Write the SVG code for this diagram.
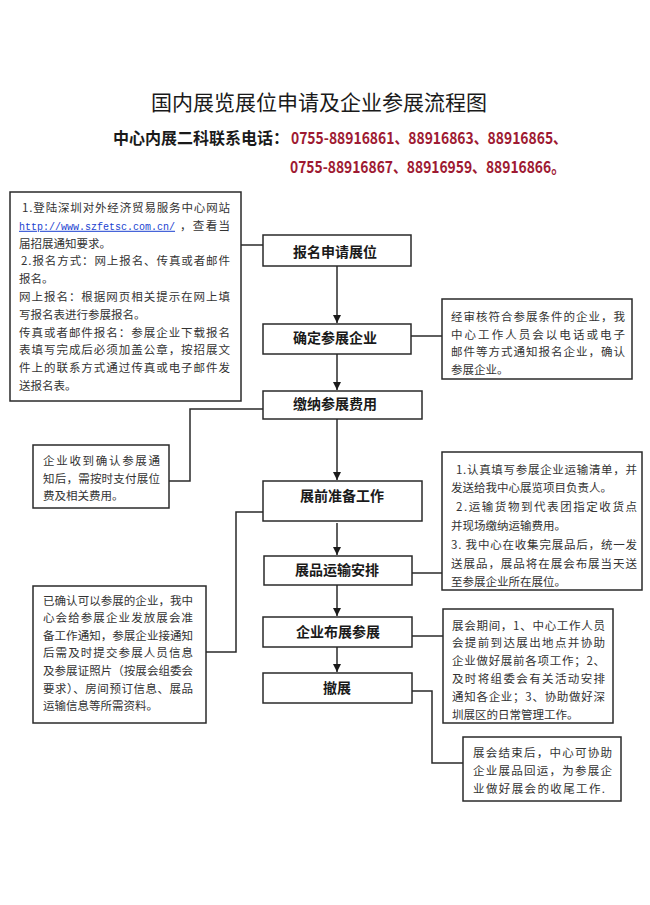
<svg xmlns="http://www.w3.org/2000/svg" width="650" height="905" viewBox="0 0 650 905">
<style>
text{font-family:"Noto Sans CJK SC","Noto Sans",sans-serif;}
.box{fill:#fff;stroke:#2a2a2a;stroke-width:1.5;}
.lbl{font-size:14px;font-weight:bold;fill:#1a1a1a;text-anchor:middle;}
.body{font-size:11.5px;fill:#333;}
.con{fill:none;stroke:#2a2a2a;stroke-width:1.5;}
.title{font-size:21px;fill:#1a1a1a;text-anchor:middle;}
.sub{font-size:16px;font-weight:bold;fill:#1a1a1a;}
.red{fill:#9e1a32;}
.url{font-family:"Liberation Mono",monospace;font-size:10px;fill:#1a3fd0;text-decoration:underline;}
</style>
<defs>
<marker id="ah" markerUnits="userSpaceOnUse" markerWidth="9" markerHeight="9" refX="8" refY="4" orient="auto">
<path d="M0,0 L8,4 L0,8 z" fill="#1a1a1a"/>
</marker>
</defs>
<rect width="650" height="905" fill="#fff"/>

<g id="header">
<text class="title" x="319" y="110">国内展览展位申请及企业参展流程图</text>
<text class="sub" x="113" y="144">中心内展二科联系电话：</text>
<text class="sub red" x="291" y="144" textLength="276" lengthAdjust="spacingAndGlyphs">0755-88916861、88916863、88916865、</text>
<text class="sub red" x="290" y="173" textLength="275" lengthAdjust="spacingAndGlyphs">0755-88916867、88916959、88916866。</text>
</g>

<g id="connectors">
<line class="con" x1="241" y1="245" x2="263" y2="245"/>
<line class="con" x1="337" y1="266" x2="337" y2="323" marker-end="url(#ah)"/>
<line class="con" x1="337" y1="354" x2="337" y2="390" marker-end="url(#ah)"/>
<line class="con" x1="337" y1="419" x2="337" y2="480" marker-end="url(#ah)"/>
<line class="con" x1="337" y1="523" x2="337" y2="555" marker-end="url(#ah)"/>
<line class="con" x1="337" y1="585" x2="337" y2="616" marker-end="url(#ah)"/>
<line class="con" x1="337" y1="647" x2="337" y2="672" marker-end="url(#ah)"/>
<line class="con" x1="411" y1="336" x2="442" y2="336"/>
<polyline class="con" points="263,409 190,409 190,481 169,481"/>
<polyline class="con" points="263,512 236,512 236,652 206,652"/>
<line class="con" x1="412" y1="573" x2="442" y2="573"/>
<line class="con" x1="412" y1="636" x2="443" y2="636"/>
<polyline class="con" points="412,691 432,691 432,763 463,763"/>
</g>

<g id="n-apply">
<rect class="box" x="263" y="235" width="148" height="31"/>
<text class="lbl" x="335" y="257">报名申请展位</text>
</g>
<g id="n-confirm">
<rect class="box" x="263" y="324" width="148" height="30"/>
<text class="lbl" x="335" y="343">确定参展企业</text>
</g>
<g id="n-pay">
<rect class="box" x="263" y="391" width="159" height="28"/>
<text class="lbl" x="335" y="409">缴纳参展费用</text>
</g>
<g id="n-prep">
<rect class="box" x="263" y="481" width="159" height="40"/>
<text class="lbl" x="342" y="501">展前准备工作</text>
</g>
<g id="n-ship">
<rect class="box" x="264" y="556" width="148" height="29"/>
<text class="lbl" x="337" y="575">展品运输安排</text>
</g>
<g id="n-setup">
<rect class="box" x="263" y="617" width="149" height="30"/>
<text class="lbl" x="338" y="637">企业布展参展</text>
</g>
<g id="n-close">
<rect class="box" x="263" y="673" width="149" height="30"/>
<text class="lbl" x="337" y="693">撤展</text>
</g>

<g id="note-register">
<rect class="box" x="10" y="192" width="231" height="209"/>
<text class="body" x="22" y="212" textLength="208" lengthAdjust="spacing">1.登陆深圳对外经济贸易服务中心网站</text>
<text class="url" x="19" y="229.8">http://www.szfetsc.com.cn/</text>
<text class="body" x="180" y="229.8" textLength="50" lengthAdjust="spacing">，查看当</text>
<text class="body" x="19" y="247.6">届招展通知要求。</text>
<text class="body" x="21" y="265.4" textLength="209" lengthAdjust="spacing">2.报名方式：网上报名、传真或者邮件</text>
<text class="body" x="19" y="283.2">报名。</text>
<text class="body" x="19" y="301" textLength="211" lengthAdjust="spacing">网上报名：根据网页相关提示在网上填</text>
<text class="body" x="19" y="318.8">写报名表进行参展报名。</text>
<text class="body" x="19" y="336.6" textLength="211" lengthAdjust="spacing">传真或者邮件报名：参展企业下载报名</text>
<text class="body" x="19" y="354.4" textLength="211" lengthAdjust="spacing">表填写完成后必须加盖公章，按招展文</text>
<text class="body" x="19" y="372.2" textLength="211" lengthAdjust="spacing">件上的联系方式通过传真或电子邮件发</text>
<text class="body" x="19" y="390">送报名表。</text>
</g>

<g id="note-confirm">
<rect class="box" x="442" y="299" width="190" height="80"/>
<text class="body" x="451" y="321" textLength="174" lengthAdjust="spacing">经审核符合参展条件的企业，我</text>
<text class="body" x="451" y="338.7" textLength="174" lengthAdjust="spacing">中心工作人员会以电话或电子</text>
<text class="body" x="451" y="356.4" textLength="174" lengthAdjust="spacing">邮件等方式通知报名企业，确认</text>
<text class="body" x="451" y="374.1">参展企业。</text>
</g>

<g id="note-pay">
<rect class="box" x="33" y="445" width="136" height="63"/>
<text class="body" x="43" y="465" textLength="117" lengthAdjust="spacing">企业收到确认参展通</text>
<text class="body" x="43" y="482.5" textLength="117" lengthAdjust="spacing">知后，需按时支付展位</text>
<text class="body" x="43" y="500">费及相关费用。</text>
</g>

<g id="note-ship">
<rect class="box" x="442" y="452" width="200" height="138"/>
<text class="body" x="456" y="473.5" textLength="181" lengthAdjust="spacing">1.认真填写参展企业运输清单，并</text>
<text class="body" x="451" y="492.3">发送给我中心展览项目负责人。</text>
<text class="body" x="456" y="511.1" textLength="181" lengthAdjust="spacing">2.运输货物到代表团指定收货点</text>
<text class="body" x="451" y="529.9">并现场缴纳运输费用。</text>
<text class="body" x="451" y="548.7" textLength="186" lengthAdjust="spacing">3. 我中心在收集完展品后，统一发</text>
<text class="body" x="451" y="567.5" textLength="186" lengthAdjust="spacing">送展品，展品将在展会布展当天送</text>
<text class="body" x="451" y="586.3">至参展企业所在展位。</text>
</g>

<g id="note-prep">
<rect class="box" x="33" y="586" width="173" height="137"/>
<text class="body" x="43" y="604.5" textLength="150" lengthAdjust="spacing">已确认可以参展的企业，我中</text>
<text class="body" x="43" y="622.1" textLength="150" lengthAdjust="spacing">心会给参展企业发放展会准</text>
<text class="body" x="43" y="639.7" textLength="150" lengthAdjust="spacing">备工作通知，参展企业接通知</text>
<text class="body" x="43" y="657.3" textLength="150" lengthAdjust="spacing">后需及时提交参展人员信息</text>
<text class="body" x="43" y="674.9" textLength="150" lengthAdjust="spacing">及参展证照片（按展会组委会</text>
<text class="body" x="43" y="692.5" textLength="150" lengthAdjust="spacing">要求）、房间预订信息、展品</text>
<text class="body" x="43" y="710.1">运输信息等所需资料。</text>
</g>

<g id="note-setup">
<rect class="box" x="443" y="609" width="170" height="114"/>
<text class="body" x="452" y="629.5" textLength="153" lengthAdjust="spacing">展会期间，1、中心工作人员</text>
<text class="body" x="452" y="647.3" textLength="153" lengthAdjust="spacing">会提前到达展出地点并协助</text>
<text class="body" x="452" y="665.1" textLength="153" lengthAdjust="spacing">企业做好展前各项工作；2、</text>
<text class="body" x="452" y="682.9" textLength="153" lengthAdjust="spacing">及时将组委会有关活动安排</text>
<text class="body" x="452" y="700.7" textLength="153" lengthAdjust="spacing">通知各企业；3、协助做好深</text>
<text class="body" x="452" y="718.5">圳展区的日常管理工作。</text>
</g>

<g id="note-close">
<rect class="box" x="463" y="737" width="158" height="64"/>
<text class="body" x="473" y="756.5" textLength="139" lengthAdjust="spacing">展会结束后，中心可协助</text>
<text class="body" x="473" y="774.5" textLength="139" lengthAdjust="spacing">企业展品回运，为参展企</text>
<text class="body" x="473" y="792.5" textLength="132" lengthAdjust="spacing">业做好展会的收尾工作.</text>
</g>
</svg>
